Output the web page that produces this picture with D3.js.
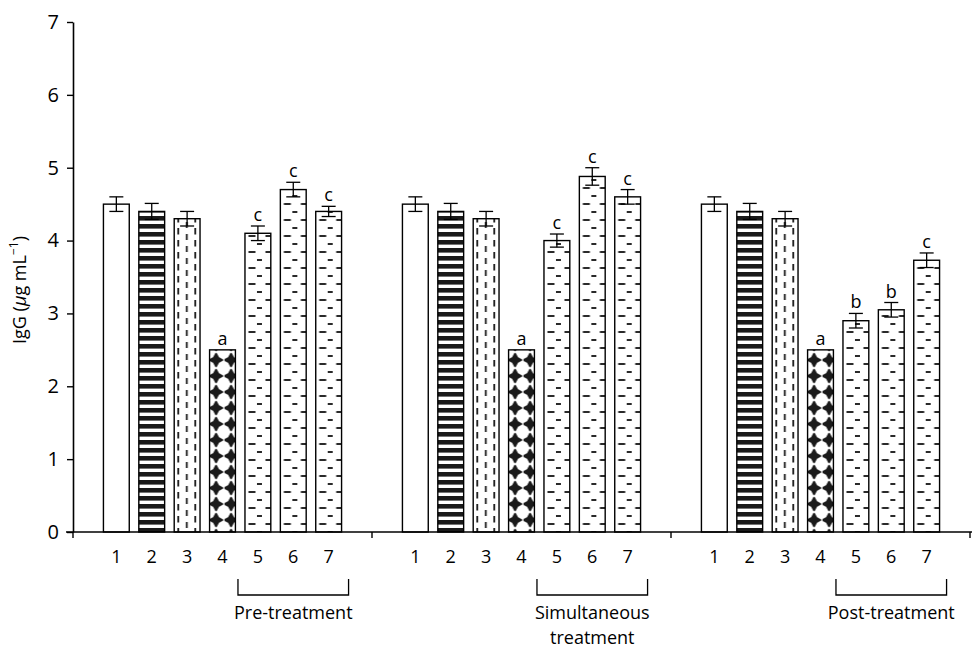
<!DOCTYPE html>
<html>
<head>
<meta charset="utf-8">
<script src="https://cdn.jsdelivr.net/npm/d3@7"></script>
<style>
  html, body { margin: 0; padding: 0; background: #fff; }
  text { font-family: "Open Sans", "Noto Sans", sans-serif; fill: #000; }
</style>
</head>
<body>
<svg id="chart" width="972" height="651"></svg>
<script>
// ---- data ----
const groups = ["Pre-treatment", "Simultaneous treatment", "Post-treatment"];
const groupLabelLines = [["Pre-treatment"], ["Simultaneous", "treatment"], ["Post-treatment"]];
const treatments = ["1", "2", "3", "4", "5", "6", "7"];
const preValues  = [4.5, 4.4, 4.3, 2.5, 4.1, 4.7, 4.4];
const simValues  = [4.5, 4.4, 4.3, 2.5, 4.0, 4.88, 4.6];
const postValues = [4.5, 4.4, 4.3, 2.5, 2.9, 3.05, 3.73];
const preErrors  = [0.1, 0.11, 0.1, 0, 0.1, 0.1, 0.07];
const simErrors  = [0.1, 0.11, 0.1, 0, 0.09, 0.12, 0.1];
const postErrors = [0.1, 0.11, 0.1, 0, 0.1, 0.1, 0.1];
const preLetters  = ["", "", "", "a", "c", "c", "c"];
const simLetters  = ["", "", "", "a", "c", "c", "c"];
const postLetters = ["", "", "", "a", "b", "b", "c"];
const yTicks = [0, 1, 2, 3, 4, 5, 6, 7];
// pattern kind per treatment: 0 white, 1 stripes, 2 vertical dashes, 3 diamonds, 4 horizontal dashes
const patternKinds = [0, 1, 2, 3, 4, 4, 4];

const valuesByGroup = [preValues, simValues, postValues];
const errorsByGroup = [preErrors, simErrors, postErrors];
const lettersByGroup = [preLetters, simLetters, postLetters];

const rows = [];
groups.forEach((g, gi) => treatments.forEach((t, ti) => rows.push({
  g, gi, t, ti, v: valuesByGroup[gi][ti], e: errorsByGroup[gi][ti], letter: lettersByGroup[gi][ti], kind: patternKinds[ti]
})));

// ---- layout ----
const svg = d3.select("#chart");
svg.append("rect").attr("width", 972).attr("height", 651).attr("fill", "#fff");

const x0 = d3.scaleBand().domain(groups).range([73, 970]).paddingInner(0).paddingOuter(0);
const x1 = d3.scaleBand().domain(treatments).range([0, x0.bandwidth()]).paddingInner(0.27).paddingOuter(0.86);
const y = d3.scaleLinear().domain([0, 7]).range([532, 22]);
const bw = x1.bandwidth();
const barX = d => x0(d.g) + x1(d.t);

// ---- patterns (one per bar, aligned to the bar) ----
const defs = svg.append("defs");
const ink = "#1a1a1a";
rows.forEach((d, i) => {
  d.pid = "pat" + i;
  if (d.kind === 0) return;
  const p = defs.append("pattern").attr("id", d.pid).attr("patternUnits", "userSpaceOnUse")
    .attr("x", barX(d)).attr("y", 0);
  p.append("rect").attr("width", 40).attr("height", 40).attr("fill", "#fff");
  if (d.kind === 1) {
    p.attr("width", bw + 10).attr("height", 8);
    p.append("rect").attr("x", 0).attr("y", 0).attr("width", bw + 10).attr("height", 4.6).attr("fill", ink);
  } else if (d.kind === 2) {
    p.attr("width", 17).attr("height", 12);
    p.append("rect").attr("x", 3.2).attr("y", 0).attr("width", 1.8).attr("height", 6.5).attr("fill", ink);
    p.append("rect").attr("x", 11.7).attr("y", 6).attr("width", 1.8).attr("height", 6.5).attr("fill", ink);
  } else if (d.kind === 3) {
    p.attr("width", 15).attr("height", 16);
    const cx = 6.5, cy = 8, r = 6.3;
    p.append("path")
      .attr("d", `M${cx},${cy - r} L${cx + 2.2},${cy - 2.2} L${cx + r},${cy} L${cx + 2.2},${cy + 2.2} L${cx},${cy + r} L${cx - 2.2},${cy + 2.2} L${cx - r},${cy} L${cx - 2.2},${cy - 2.2} Z`)
      .attr("fill", ink).attr("stroke", ink).attr("stroke-width", 1.8).attr("stroke-linejoin", "round");
  } else if (d.kind === 4) {
    p.attr("width", 17).attr("height", 16);
    p.append("rect").attr("x", 12).attr("y", 3).attr("width", 7).attr("height", 2).attr("fill", "#2a2a2a");
    p.append("rect").attr("x", 3.5).attr("y", 11).attr("width", 7).attr("height", 2).attr("fill", "#2a2a2a");
  }
});

// ---- bars ----
svg.append("g").selectAll("rect").data(rows).join("rect")
  .attr("x", d => barX(d))
  .attr("y", d => y(d.v))
  .attr("width", bw)
  .attr("height", d => y(0) - y(d.v))
  .attr("fill", d => d.kind === 0 ? "#fff" : `url(#${d.pid})`)
  .attr("stroke", "#000").attr("stroke-width", 1.4);

// ---- error bars ----
const eb = svg.append("g").attr("stroke", "#000").attr("stroke-width", 1.3);
rows.filter(d => d.e > 0).forEach(d => {
  const cx = barX(d) + bw / 2;
  eb.append("line").attr("x1", cx).attr("x2", cx).attr("y1", y(d.v - d.e)).attr("y2", y(d.v + d.e));
  eb.append("line").attr("x1", cx - 7).attr("x2", cx + 7).attr("y1", y(d.v + d.e)).attr("y2", y(d.v + d.e));
  eb.append("line").attr("x1", cx - 7).attr("x2", cx + 7).attr("y1", y(d.v - d.e)).attr("y2", y(d.v - d.e));
});

// ---- significance letters ----
svg.append("g").selectAll("text").data(rows.filter(d => d.letter)).join("text")
  .attr("x", d => barX(d) + bw / 2)
  .attr("y", d => y(d.v + d.e) - 5)
  .attr("text-anchor", "middle").attr("font-size", 18)
  .text(d => d.letter);

// ---- y axis ----
const yAxis = svg.append("g").attr("transform", "translate(73,0)")
  .call(d3.axisLeft(y).tickValues(yTicks).tickSize(6).tickSizeOuter(0).tickPadding(8).tickFormat(d3.format("d")));
yAxis.select(".domain").attr("stroke", "#000").attr("stroke-width", 1.6);
yAxis.selectAll(".tick line").attr("stroke", "#000").attr("stroke-width", 1.4);
yAxis.selectAll(".tick text").attr("font-size", 20).attr("font-family", "Open Sans, sans-serif").attr("fill", "#000");

// ---- x axis ----
const xAxis = svg.append("g");
xAxis.append("line").attr("x1", 66).attr("x2", 972).attr("y1", y(0)).attr("y2", y(0))
  .attr("stroke", "#000").attr("stroke-width", 1.6);
const boundaries = groups.map(g => x0(g)).concat([x0.range()[1]]);
xAxis.selectAll("line.bt").data(boundaries).join("line").attr("class", "bt")
  .attr("x1", d => d).attr("x2", d => d).attr("y1", y(0)).attr("y2", y(0) + 6)
  .attr("stroke", "#000").attr("stroke-width", 1.4);

// bar number labels
svg.append("g").selectAll("text").data(rows).join("text")
  .attr("x", d => barX(d) + bw / 2)
  .attr("y", y(0) + 31)
  .attr("text-anchor", "middle").attr("font-size", 18)
  .text(d => d.t);

// brackets and group labels
const br = svg.append("g");
groups.forEach((g, gi) => {
  const xl = x0(g) + x1("5") - 7;
  const xr = x0(g) + x1("7") + bw + 7;
  br.append("path").attr("d", `M${xl},579 V595 H${xr} V579`)
    .attr("fill", "none").attr("stroke", "#000").attr("stroke-width", 1.3);
  const t = br.append("text").attr("x", (xl + xr) / 2).attr("y", 619)
    .attr("text-anchor", "middle").attr("font-size", 18);
  groupLabelLines[gi].forEach((line, li) => {
    t.append("tspan").attr("x", (xl + xr) / 2).attr("dy", li === 0 ? 0 : 25).text(line);
  });
});

// y axis title
const yt = svg.append("text").attr("transform", "translate(26,290) rotate(-90)")
  .attr("text-anchor", "middle").attr("font-size", 18);
yt.append("tspan").text("IgG (");
yt.append("tspan").attr("font-style", "italic").text("\u03bc");
yt.append("tspan").text("g mL");
yt.append("tspan").attr("font-size", 12).attr("dy", -8).text("\u22121");
yt.append("tspan").attr("dy", 8).text(")");
</script>
</body>
</html>
